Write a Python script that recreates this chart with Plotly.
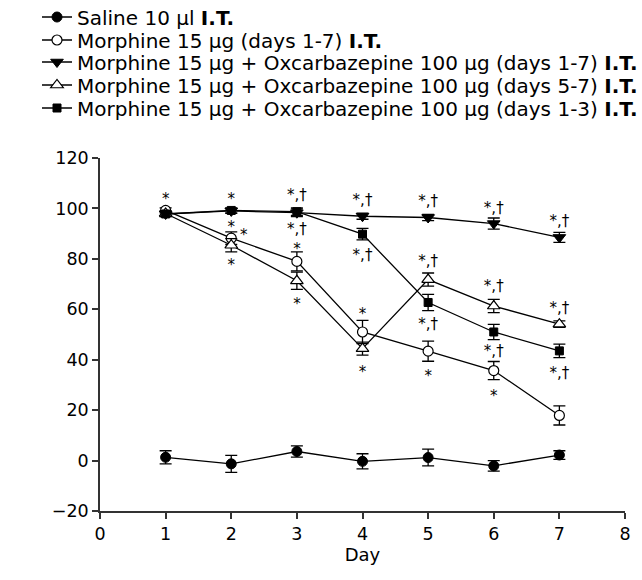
import plotly.graph_objects as go

days = [1, 2, 3, 4, 5, 6, 7]

saline = [1.3, -1.3, 3.6, -0.3, 1.2, -2.1, 2.2]
saline_err = [2.6, 3.4, 2.2, 3.0, 3.3, 2.1, 1.7]

morphine = [99.2, 88.2, 79.0, 51.0, 43.4, 35.7, 17.9]
morphine_err = [1.0, 2.5, 3.8, 4.6, 4.0, 3.6, 3.8]

oxc_1_7 = [97.8, 99.0, 98.3, 96.9, 96.4, 94.0, 88.5]
oxc_1_7_err = [1.0, 1.0, 1.5, 1.2, 1.2, 2.2, 2.0]

oxc_5_7 = [98.0, 85.4, 71.3, 44.4, 71.8, 61.3, 54.1]
oxc_5_7_err = [1.0, 2.6, 3.4, 2.6, 2.6, 2.6, 1.3]

oxc_1_3 = [97.8, 99.2, 98.7, 89.8, 62.7, 51.0, 43.5]
oxc_1_3_err = [1.0, 1.0, 1.5, 2.3, 3.2, 3.0, 2.7]

names = [
    "Saline 10 μl <b>I.T.</b>",
    "Morphine 15 μg (days 1-7) <b>I.T.</b>",
    "Morphine 15 μg + Oxcarbazepine 100 μg (days 1-7) <b>I.T.</b>",
    "Morphine 15 μg + Oxcarbazepine 100 μg (days 5-7) <b>I.T.</b>",
    "Morphine 15 μg + Oxcarbazepine 100 μg (days 1-3) <b>I.T.</b>",
]

# significance marks: (day, y, text)
sig_x = [1, 2, 2, 2.19, 2, 3, 3, 3, 3, 4, 4, 4, 4, 5, 5, 5, 5, 6, 6, 6, 6, 7, 7, 7]
sig_y = [103.2, 103.2, 92.0, 89.1, 77.2, 104.8, 91.4, 83.3, 61.5, 103.0, 81.1, 57.6, 34.7,
         102.3, 78.5, 53.6, 33.1, 99.6, 68.6, 43.1, 25.2, 94.4, 60.0, 34.2]
sig_t = ["*", "*", "*", "*", "*", "*,†", "*,†", "*", "*", "*,†", "*,†", "*", "*",
         "*,†", "*,†", "*,†", "*", "*,†", "*,†", "*,†", "*", "*,†", "*,†", "*,†"]

FONT = "DejaVu Sans"
BLACK = "#000000"
W, H = 642, 580

series = [
    (saline, saline_err, dict(symbol="circle", size=10, color=BLACK, line=dict(color=BLACK, width=1))),
    (morphine, morphine_err, dict(symbol="circle", size=10, color="white", line=dict(color=BLACK, width=1.2))),
    (oxc_1_7, oxc_1_7_err, dict(symbol="triangle-down", size=11, color=BLACK, line=dict(color=BLACK, width=1))),
    (oxc_5_7, oxc_5_7_err, dict(symbol="triangle-up", size=11, color="white", line=dict(color=BLACK, width=1.2))),
    (oxc_1_3, oxc_1_3_err, dict(symbol="square", size=8, color=BLACK, line=dict(color=BLACK, width=1))),
]

fig = go.Figure()
legend_ids = ["legend", "legend2", "legend3", "legend4", "legend5"]
for i, (vals, errs, mk) in enumerate(series):
    fig.add_trace(go.Scatter(
        x=days, y=vals, name=names[i], mode="lines+markers",
        line=dict(color=BLACK, width=1.3),
        marker=mk,
        error_y=dict(type="data", array=errs, visible=True, color=BLACK, thickness=1.3, width=6),
        legend=legend_ids[i],
    ))

# significance marks as a text trace
fig.add_trace(go.Scatter(
    x=sig_x, y=sig_y, text=sig_t, mode="text", textposition="middle center",
    textfont=dict(family=FONT, size=15, color=BLACK),
    showlegend=False, hoverinfo="skip", cliponaxis=False,
))

row_centers = [17, 40, 62, 85, 108]
legend_layouts = {}
for i, lid in enumerate(legend_ids):
    legend_layouts[lid] = dict(
        xref="container", yref="container",
        x=37 / W, xanchor="left",
        y=1 - row_centers[i] / H, yanchor="middle",
        bgcolor="rgba(0,0,0,0)", borderwidth=0,
        font=dict(family=FONT, size=20, color=BLACK),
    )

fig.update_layout(
    width=W, height=H,
    margin=dict(l=100, r=17, t=158, b=H - 511, autoexpand=False),
    paper_bgcolor="white", plot_bgcolor="white",
    font=dict(family=FONT, color=BLACK),
    showlegend=True,
    **legend_layouts,
    xaxis=dict(
        range=[0, 8], tickvals=[0, 1, 2, 3, 4, 5, 6, 7, 8],
        showgrid=False, zeroline=False, showline=True, linecolor="#333333", linewidth=1.5,
        ticks="outside", ticklen=6, tickwidth=1.5, tickcolor="#333333",
        tickfont=dict(family=FONT, size=17.5, color=BLACK),
        title=dict(text="Day", font=dict(family=FONT, size=18, color=BLACK), standoff=4),
    ),
    yaxis=dict(
        range=[-20, 120], tickvals=[-20, 0, 20, 40, 60, 80, 100, 120],
        ticktext=["−20", "0", "20", "40", "60", "80", "100", "120"],
        showgrid=False, zeroline=False, showline=True, linecolor="#333333", linewidth=1.5,
        ticks="outside", ticklen=6, tickwidth=1.5, tickcolor="#333333",
        tickfont=dict(family=FONT, size=17.5, color=BLACK),
        title=dict(text="Antinociception (%MPE)", font=dict(family=FONT, size=18, color=BLACK), standoff=14),
    ),
)

fig.write_html(
    "out.html",
    config={"displayModeBar": False},
    post_script="document.body.style.margin='0';document.body.style.overflow='hidden';",
)
